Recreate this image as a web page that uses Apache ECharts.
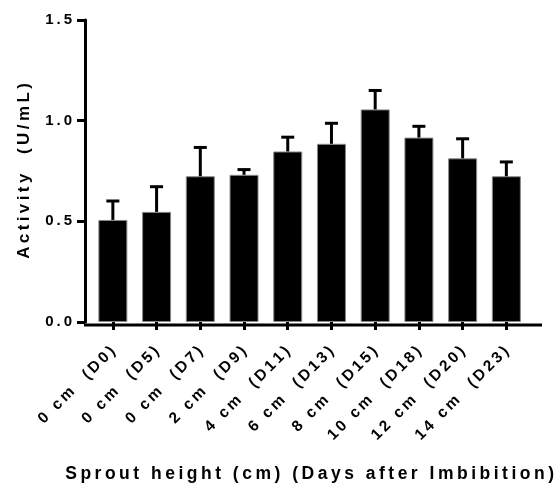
<!DOCTYPE html>
<html>
<head>
<meta charset="utf-8">
<script src="https://cdn.jsdelivr.net/npm/echarts@6/dist/echarts.min.js"></script>
<style>
  html, body { margin: 0; padding: 0; background: #fff; }
  #chart { width: 557px; height: 488px; }
</style>
</head>
<body>
<div id="chart"></div>
<script>
// categories (sprout height + day)
var categories = ['0 cm  (D0)', '0 cm  (D5)', '0 cm  (D7)', '2 cm  (D9)', '4 cm  (D11)',
  '6 cm  (D13)', '8 cm  (D15)', '10 cm  (D18)', '12 cm  (D20)', '14 cm  (D23)'];
// mean activity (U/mL)
var activity = [0.507, 0.547, 0.724, 0.731, 0.847, 0.885, 1.056, 0.916, 0.813, 0.724];
// upper end of error bar (mean + SD)
var errTop = [0.601, 0.672, 0.867, 0.757, 0.918, 0.987, 1.150, 0.972, 0.910, 0.795];
var yTicks = { min: 0, max: 1.5, interval: 0.5 };

var FONT = '"Liberation Sans", Arial, sans-serif';
// GraphPad style wide letter spacing
function spaced(s) {
  return s.split('').join('\u2009');
}

var chart = echarts.init(document.getElementById('chart'));

var errData = activity.map(function (v, i) {
  return [i, v, errTop[i]];
});

var option = {
  animation: false,
  grid: { left: 91, right: 24, top: 20, bottom: 163 },
  xAxis: {
    type: 'category',
    data: categories,
    axisLine: { show: false },
    axisTick: { show: true, alignWithLabel: true, length: 8, lineStyle: { color: '#000', width: 3 } },
    axisLabel: {
      rotate: 45,
      margin: 27,
      interval: 0,
      color: '#000',
      fontWeight: 'bold',
      fontSize: 15.5,
      fontFamily: FONT,
      padding: [17, 0, 0, 0],
      formatter: spaced
    },
    name: spaced('Sprout height (cm) (Days after Imbibition)'),
    nameLocation: 'middle',
    nameGap: 143,
    nameTextStyle: { color: '#000', fontWeight: 'bold', fontSize: 17.5, fontFamily: FONT }
  },
  yAxis: {
    type: 'value',
    min: yTicks.min,
    max: yTicks.max,
    interval: yTicks.interval,
    offset: 6,
    splitLine: { show: false },
    axisLine: { show: true, lineStyle: { color: '#000', width: 3 } },
    axisTick: { show: true, length: 8, lineStyle: { color: '#000', width: 3 } },
    axisLabel: {
      margin: 13,
      color: '#000',
      fontWeight: 'bold',
      fontSize: 15,
      fontFamily: FONT,
      formatter: function (v) { return spaced(v.toFixed(1)); }
    },
    name: spaced('Activity  (U/mL)'),
    nameLocation: 'middle',
    nameGap: 52,
    nameTextStyle: { color: '#000', fontWeight: 'bold', fontSize: 17, fontFamily: FONT }
  },
  graphic: [{
    type: 'line',
    shape: { x1: 84, y1: 325, x2: 542, y2: 325 },
    style: { stroke: '#000', lineWidth: 3 },
    z: 10
  }],
  series: [
    {
      type: 'bar',
      data: activity,
      barWidth: 29,
      itemStyle: { color: '#000', borderColor: '#8a8a8a', borderWidth: 1 }
    },
    {
      type: 'custom',
      data: errData,
      z: 5,
      renderItem: function (params, api) {
        var i = api.value(0);
        var base = api.coord([i, api.value(1)]);
        var top = api.coord([i, api.value(2)]);
        var hw = 6.5;
        var style = { stroke: '#000', lineWidth: 3 };
        return {
          type: 'group',
          children: [
            { type: 'line', shape: { x1: base[0], y1: base[1], x2: top[0], y2: top[1] }, style: style },
            { type: 'line', shape: { x1: top[0] - hw, y1: top[1], x2: top[0] + hw, y2: top[1] }, style: style }
          ]
        };
      }
    }
  ]
};

chart.setOption(option);
</script>
</body>
</html>
